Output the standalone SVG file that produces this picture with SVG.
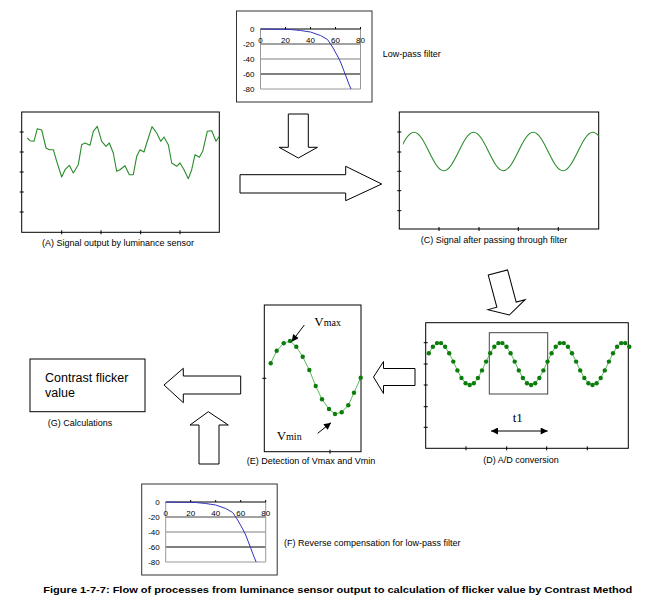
<svg xmlns="http://www.w3.org/2000/svg" width="667" height="607" viewBox="0 0 667 607">
<style>
.box{fill:#fff;stroke:#000;stroke-width:1}
.tk{stroke:#000;stroke-width:1;fill:none}
.cap{font-family:"Liberation Sans",Arial,sans-serif;font-size:9px;fill:#000}
.ax{font-family:"Liberation Sans",Arial,sans-serif;font-size:8px;fill:#000}
.ser{font-family:"Liberation Serif","Times New Roman",serif;fill:#000}
.harrow{fill:#fff;stroke:#000;stroke-width:1}
.sig{fill:none;stroke:#2a8c2a;stroke-width:1.1;stroke-linejoin:round}
.smp{fill:none;stroke:#5cb85c;stroke-width:1;marker-start:url(#dot);marker-mid:url(#dot);marker-end:url(#dot)}
.ptr{stroke:#000;stroke-width:1;fill:none}
</style>
<defs>
<marker id="dot" markerUnits="userSpaceOnUse" markerWidth="6" markerHeight="6" refX="3" refY="3" orient="0">
<circle cx="3" cy="3" r="2.2" fill="#0b7d0b"/>
</marker>
<marker id="ah" markerUnits="userSpaceOnUse" viewBox="0 0 10 10" refX="10" refY="5" markerWidth="10" markerHeight="7" orient="auto-start-reverse">
<path d="M0,0 L10,5 L0,10 Z" fill="#000"/>
</marker>
<path id="downArrow" d="M-10,-44 H10 V-10.7 H19.2 L0,0 L-19.2,-10.7 H-10 Z"/>
<clipPath id="clipC"><rect x="403" y="112" width="196" height="117"/></clipPath>
<g id="chart">
<rect x="0" y="0" width="135.5" height="91" fill="#fff" stroke="#333"/>
<line x1="24" y1="33" x2="124" y2="33" stroke="#444"/>
<line x1="24" y1="48" x2="124" y2="48" stroke="#aaa" stroke-width="1.6"/>
<line x1="24" y1="63" x2="124" y2="63" stroke="#000"/>
<polyline points="24,18 24,78 124,78 124,18" fill="none" stroke="#999"/>
<line x1="24" y1="18" x2="124" y2="18" stroke="#000"/>
<path d="M49,16V18M74,16V18M99,16V18M124,16V18" stroke="#000"/>
<polyline points="24,18 54,18.5 64,19.5 74,21 84,24.5 91,28.5 96,36 101,45 104,51 109,64 112,72 114.5,78" fill="none" stroke="#3333bb" stroke-width="1"/>
<g class="ax" text-anchor="middle">
<text x="24" y="32">0</text><text x="49" y="32">20</text><text x="74" y="32">40</text><text x="99" y="32">60</text><text x="124" y="32">80</text>
</g>
<g class="ax" text-anchor="end">
<text x="18" y="21">0</text><text x="18" y="36">-20</text><text x="18" y="51">-40</text><text x="18" y="66">-60</text><text x="18" y="81">-80</text>
</g>
</g>
</defs>
<rect width="667" height="607" fill="#fff"/>

<g id="lowpass">
<use href="#chart" transform="translate(236.5,11)"/>
<text class="cap" x="382.7" y="57">Low-pass filter</text>
</g>

<g id="signalA">
<rect class="box" x="21.7" y="112" width="197.6" height="120.3"/>
<path class="tk" d="M19.7,132H23.7M19.7,152H23.7M19.7,172H23.7M19.7,192H23.7M19.7,212H23.7M61.7,230.3V234.3M101,230.3V234.3M140.7,230.3V234.3M180,230.3V234.3"/>
<polyline class="sig" points="27.3,138 30,140.7 34,141.3 37.3,128.7 41.7,130 46,148 49.3,149.7 53.3,149.7 56.7,161.3 61.7,177 65,169.7 69.3,165.3 73.3,173 78.3,164.7 81.7,144.7 85,143 90,145.3 93.3,131.3 97.3,126.3 101.7,141.3 106,146.3 109.3,143 113.3,153 116.7,171.3 120,169.7 125,165.7 129.3,174.7 133.3,174.7 136.7,156.3 140,149.7 144,152 148.3,138 152,126.7 156.7,133 160.7,141.3 164,137 168.3,144.7 171.7,163 176.7,166.3 180,163 184,169.7 188.3,178.7 191.7,169.7 195,154.7 199.3,157.3 202.7,151.3 207.3,131.3 211.7,130.7 216,141.3 219.3,136.3"/>
<text class="cap" x="118" y="246" text-anchor="middle">(A) Signal output by luminance sensor</text>
</g>

<g id="signalC">
<rect class="box" x="399.3" y="112" width="199.4" height="117"/>
<path class="tk" d="M397.3,132H401.3M397.3,152H401.3M397.3,171.3H401.3M397.3,190.7H401.3M397.3,210.7H401.3M439,227V231M479,227V231M518.3,227V231M558.3,227V231"/>
<path class="sig" clip-path="url(#clipC)" d="M384.2,170.7 C395.05,170.7 403.15,132.3 414,132.3 S432.95,170.7 443.8,170.7 S462.75,132.3 473.6,132.3 S492.55,170.7 503.4,170.7 S522.35,132.3 533.2,132.3 S552.15,170.7 563,170.7 S581.95,132.3 592.8,132.3 S611.75,170.7 622.6,170.7"/>
<text class="cap" x="494" y="243" text-anchor="middle">(C) Signal after passing through filter</text>
</g>

<g id="signalD">
<rect class="box" x="425.7" y="322.7" width="202.6" height="125.6"/>
<path class="tk" d="M423.7,342.7H427.7M423.7,364H427.7M423.7,385H427.7M423.7,406.7H427.7M423.7,427.3H427.7M466,446.3V450.3M506.7,446.3V450.3M546.7,446.3V450.3M587.3,446.3V450.3"/>
<rect x="489.3" y="332.7" width="58.4" height="61.3" fill="none" stroke="#444" stroke-width="1"/>
<polyline class="smp" points="428.8,353.2 432.9,346.7 437.0,343.1 441.0,343.1 445.1,346.7 449.2,353.2 453.3,361.6 457.4,370.4 461.5,378.0 465.6,383.2 469.7,385.0 473.8,383.2 477.9,378.0 482.0,370.4 486.1,361.6 490.2,353.2 494.3,346.7 498.4,343.1 502.4,343.1 506.5,346.7 510.6,353.2 514.7,361.6 518.8,370.4 522.9,378.0 527.0,383.2 531.1,385.0 535.2,383.2 539.3,378.0 543.4,370.4 547.5,361.6 551.6,353.2 555.7,346.7 559.8,343.1 563.8,343.1 567.9,346.7 572.0,353.2 576.1,361.6 580.2,370.4 584.3,378.0 588.4,383.2 592.5,385.0 596.6,383.2 600.7,378.0 604.8,370.4 608.9,361.6 613.0,353.2 617.1,346.7 621.2,343.1 625.2,343.1 629.3,346.7"/>
<text class="ser" x="517.7" y="422" font-size="13" text-anchor="middle">t1</text>
<line class="ptr" x1="491" y1="431" x2="547.7" y2="431" marker-start="url(#ah)" marker-end="url(#ah)"/>
<text class="cap" x="521" y="462.5" text-anchor="middle">(D) A/D conversion</text>
</g>

<g id="detectE">
<rect class="box" x="264.3" y="305" width="96.7" height="146.7"/>
<path class="tk" d="M262.3,378.3H266.3M330,449.7V453.7"/>
<polyline class="smp" points="270.7,363.3 276.7,350.7 283.7,343.3 290,341 296.3,346.7 302.7,356.7 309.3,370 315.7,386 322,399.3 329,409 335,414 341.7,412.3 348.3,405.3 354,392.7 360.7,377.7"/>
<text class="ser" x="314.3" y="326" font-size="13">V<tspan font-size="10">max</tspan></text>
<text class="ser" x="276.7" y="440" font-size="13">V<tspan font-size="10">min</tspan></text>
<line class="ptr" x1="304.3" y1="325" x2="291.7" y2="341.7" marker-end="url(#ah)"/>
<line class="ptr" x1="317.7" y1="433.3" x2="331" y2="422.7" marker-end="url(#ah)"/>
<text class="cap" x="311" y="464" text-anchor="middle">(E) Detection of Vmax and Vmin</text>
</g>

<g id="reverseF">
<use href="#chart" transform="translate(141.7,484)"/>
<text class="cap" x="284" y="546">(F) Reverse compensation for low-pass filter</text>
</g>

<g id="calcG">
<rect class="box" x="30" y="359" width="115" height="52.7"/>
<text x="45" y="381.8" font-family="Liberation Sans, Arial, sans-serif" font-size="12.5" fill="#000">Contrast flicker</text>
<text x="45" y="396.8" font-family="Liberation Sans, Arial, sans-serif" font-size="12.5" fill="#000">value</text>
<text class="cap" x="80" y="425.5" text-anchor="middle">(G) Calculations</text>
</g>

<g id="connectors">
<use href="#downArrow" class="harrow" transform="translate(298.3,158)"/>
<polygon class="harrow" points="240,174.7 345.7,174.7 345.7,166.3 381.7,184 345.7,200.7 345.7,193 240,193"/>
<use href="#downArrow" class="harrow" transform="translate(509.3,315) rotate(-15)"/>
<polygon class="harrow" points="373.5,377 383.5,361.5 383.5,368.5 415,368.5 415,385.5 383.5,385.5 383.5,393.5"/>
<polygon class="harrow" points="164,385 183.3,368.3 183.3,376 240.7,376 240.7,394 183.3,394 183.3,402.7"/>
<polygon class="harrow" points="208.3,411.7 228.3,425 219,425 219,464 199,464 199,425 190,425"/>
</g>

<text x="43.3" y="592.5" font-family="Liberation Sans, Arial, sans-serif" font-size="9.5" font-weight="bold" fill="#000" textLength="589" lengthAdjust="spacingAndGlyphs">Figure 1-7-7: Flow of processes from luminance sensor output to calculation of flicker value by Contrast Method</text>
</svg>
